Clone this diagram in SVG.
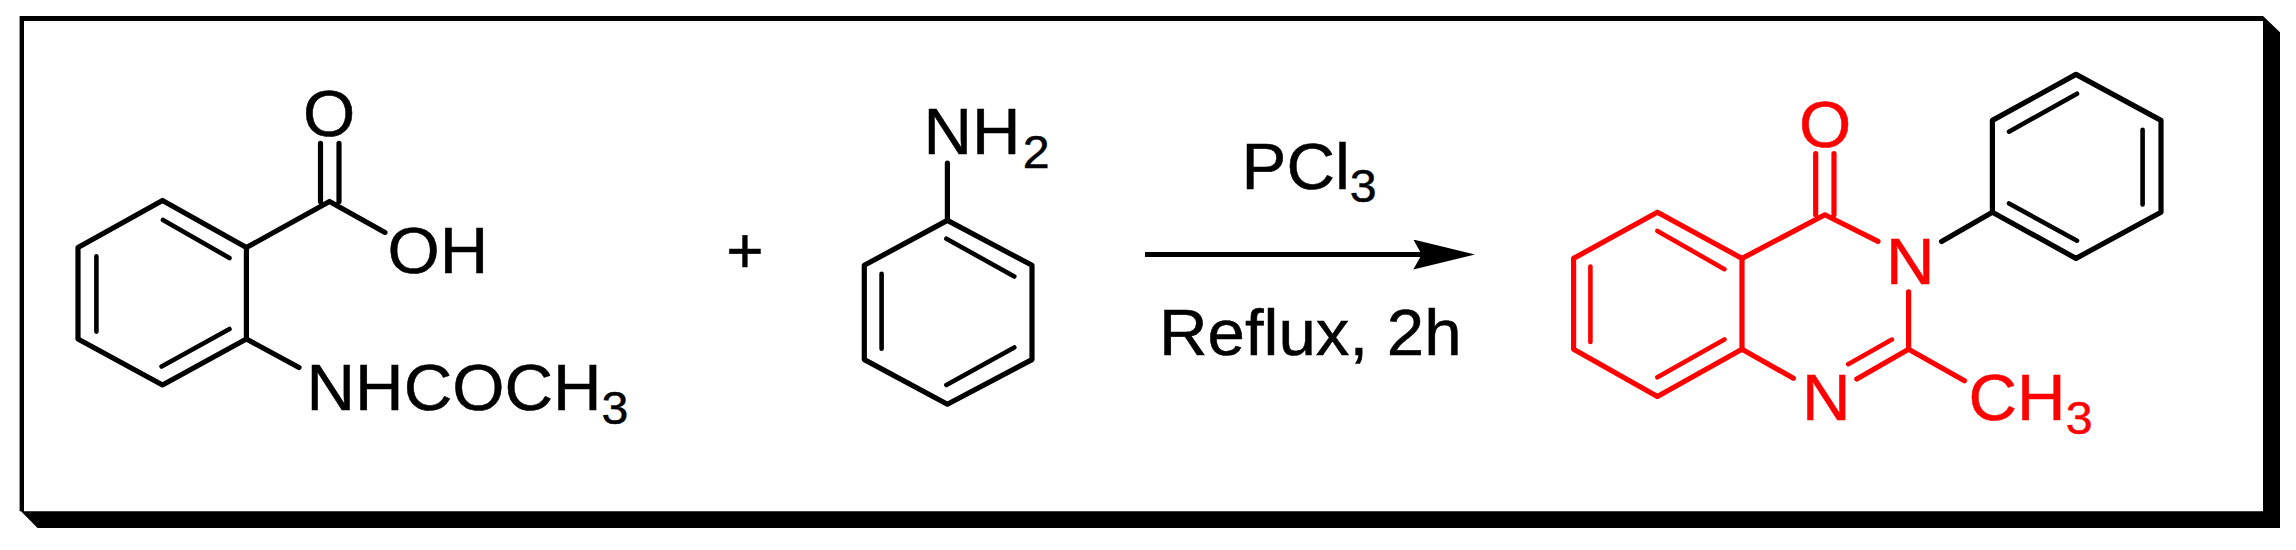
<svg xmlns="http://www.w3.org/2000/svg" width="2296" height="550" viewBox="0 0 2296 550">
<style>
.b{fill:none;stroke:#000;stroke-width:5.2;stroke-linecap:round;stroke-linejoin:round}
.i{fill:none;stroke:#000;stroke-width:4.6;stroke-linecap:round}
.r{stroke:#f00}
text{font-family:"Liberation Sans",Arial,sans-serif;font-size:64px;fill:#000;stroke:#000;stroke-width:.5}
text.red{fill:#f00;stroke:#f00}
.s{font-size:46px}
</style>
<defs>
<marker id="head" markerUnits="userSpaceOnUse" markerWidth="64" markerHeight="32" refX="8.7" refY="15" orient="auto"><path d="M0,0L61.7,15L0,30L8.4,15Z" fill="#000"/></marker>
</defs>
<rect width="2296" height="550" fill="#fff"/>
<g id="frame">
<path d="M19.6,16H2263V21H24V511.2H2263V16L2280,32.3V528H37.5L21,511.2H19.6Z" fill="#000" fill-rule="evenodd"/>
</g>
<g id="acetanthranilic-acid">
<path class="b" d="M162.5,200.4L246.4,247.6V339L162.5,385L78,339V247.6Z"/>
<path class="i" d="M163,220L229.5,258M96.4,256.4V331.6M161.6,366.5L229.5,329"/>
<path class="b" d="M246.4,247.6L329.5,201.4L385,232.4M246.4,339L299,367.5M320.5,143.4V201.4M339,143.4V201.4"/>
<text transform="translate(303 136) scale(1.05 1)">O</text>
<text transform="translate(387.5 273) scale(1.05 1)">OH</text>
<text transform="translate(306.6 410) scale(1.05 1)">NHCOCH<tspan class="s" dy="13.5">3</tspan></text>
</g>
<g id="plus"><text x="745" y="273" text-anchor="middle">+</text></g>
<g id="aniline">
<path class="b" d="M947.4,220.4L1032,265.3V359.6L947.4,404.2L864.3,359.6V265.3ZM947.4,163V220.4"/>
<path class="i" d="M946.4,238.7L1014.3,276.5M881.6,273.7V348.8M946.4,385L1014.3,347.4"/>
<text transform="translate(923.6 153.7) scale(1.05 1)">NH<tspan class="s" dx="2" dy="14.5">2</tspan></text>
</g>
<g id="connectors">
<line x1="1145" y1="254.5" x2="1422" y2="254.5" stroke="#000" stroke-width="4.8" marker-end="url(#head)"/>
</g>
<g id="conditions">
<text transform="translate(1241.6 189) scale(1.05 1)">PCl<tspan class="s" dy="13">3</tspan></text>
<text transform="translate(1159 355) scale(1.05 1)">Reflux, 2h</text>
</g>
<g id="quinazolinone">
<path class="b r" d="M1657.4,212.2L1742,258.4V349.2L1657.4,396.5L1573.6,349.2V258.4Z"/>
<path class="i r" d="M1657.4,230.9L1724.4,269.2M1590.4,266.6V342M1657.4,377.3L1724.4,339.4M1891.9,339.6L1848.2,364.2"/>
<path class="b r" d="M1742,258.4L1824.9,214.8L1878,241.4M1815.7,153.7V214.8M1834,153.7V214.8M1908.6,291.8V349.2L1856.8,379M1908.6,349.2L1964.5,380.7M1742,349.2L1793.4,378.3"/>
<text class="red" transform="translate(1799 146.7) scale(1.05 1)">O</text>
<text class="red" transform="translate(1886 283.5) scale(1.05 1)">N</text>
<text class="red" transform="translate(1802 420.4) scale(1.05 1)">N</text>
<text class="red" transform="translate(1968.6 420.4) scale(1.05 1)">CH<tspan class="s" dy="13.5">3</tspan></text>
</g>
<g id="phenyl">
<path class="b" d="M1941.6,241.4L1992.4,212.2V120.4L2076,74.4L2161,120.4V212.2L2076,258.4L1992.4,212.2"/>
<path class="i" d="M2009,131.7L2077,93.7M2142.6,129.7V204.4M2009,203.4L2077,240.7"/>
</g>
</svg>
